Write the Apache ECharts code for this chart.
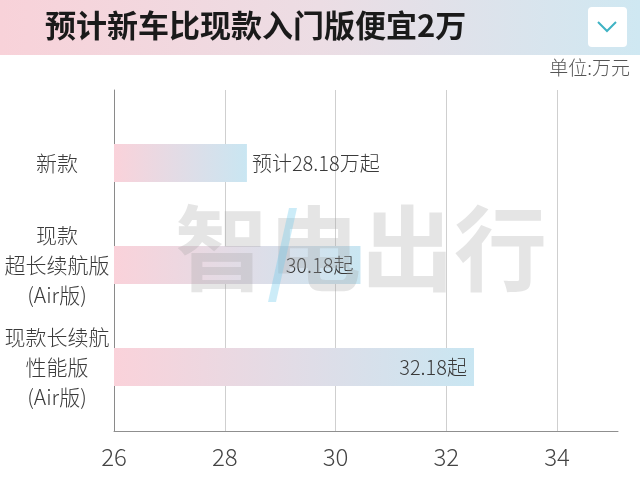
<!DOCTYPE html>
<html>
<head>
<meta charset="utf-8">
<script src="https://cdn.jsdelivr.net/npm/echarts@6/dist/echarts.min.js"></script>
<style>html,body{margin:0;padding:0;background:#fff;}#c{width:640px;height:480px;}</style>
</head>
<body>
<div id="c"></div>
<script>
const titleText = '预计新车比现款入门版便宜2万';
const unitText = '单位:万元';
const categories = ['新款', '现款\n超长续航版\n(Air版)', '现款长续航\n性能版\n(Air版)'];
const barValues = [28.4, 30.45, 32.5];
const barLabels = ['预计28.18万起', '30.18起', '32.18起'];
const labelPositions = ['right', 'insideRight', 'insideRight'];
const axisMin = 26, axisMax = 35.1, axisStep = 2;
const watermark = '智电出行';

const font = '"Noto Sans CJK SC", "Noto Sans", sans-serif';
const chart = echarts.init(document.getElementById('c'), null, {renderer: 'canvas'});

const barGradient = new echarts.graphic.LinearGradient(0, 0, 1, 0, [
  {offset: 0, color: '#fad2da'},
  {offset: 1, color: '#c9e6f2'}
]);

chart.setOption({
  backgroundColor: '#ffffff',
  animation: false,
  textStyle: {fontFamily: font},
  graphic: [
    {type: 'rect', left: 0, top: 0, z: 0, shape: {width: 640, height: 55},
     style: {fill: new echarts.graphic.LinearGradient(0, 0, 1, 0, [
       {offset: 0, color: '#f8d2d9'}, {offset: 0.5, color: '#ecdde4'}, {offset: 1, color: '#cfe8f2'}])}},
    {type: 'text', left: 45, top: 10, z: 1,
     style: {text: titleText, font: 'bold 31px ' + font, fill: '#1a1a1a'}},
    {type: 'rect', left: 588, top: 7, z: 1, shape: {width: 39, height: 40, r: 4}, style: {fill: '#ffffff'}},
    {type: 'polyline', z: 2, shape: {points: [[598, 22], [607, 31], [616, 22]]},
     style: {stroke: '#3fb3c4', lineWidth: 2, fill: null}},
    {type: 'text', right: 10, top: 58, z: 1,
     style: {text: unitText, font: '300 19px ' + font, fill: '#555'}},
    {type: 'text', left: 175, top: 202, z: 20,
     style: {text: watermark, font: 'bold 93px ' + font, fill: 'rgba(160,160,160,0.28)'}},
    {type: 'polygon', z: 21, shape: {points: [[268, 302], [276, 302], [297, 208], [289, 208]]},
     style: {fill: 'rgba(110,200,235,0.35)'}}
  ],
  grid: [
    {left: 114, right: 22, top: 90, bottom: 49},
    {left: 114, right: 22, top: 112, height: 306}
  ],
  xAxis: [
    {type: 'value', gridIndex: 0, min: axisMin, max: axisMax, interval: axisStep,
     axisLine: {show: true, lineStyle: {color: '#8f8f8f', width: 1}},
     axisTick: {show: false},
     axisLabel: {showMaxLabel: false, fontSize: 24, fontWeight: 300, color: '#444', margin: 14, fontFamily: font},
     splitLine: {show: true, showMaxLine: false, lineStyle: {color: '#cfcfcf', width: 1}}},
    {type: 'value', gridIndex: 1, min: axisMin, max: axisMax, interval: axisStep,
     axisLine: {show: false}, axisTick: {show: false}, axisLabel: {show: false}, splitLine: {show: false}}
  ],
  yAxis: [
    {type: 'category', gridIndex: 0, data: [''],
     axisLine: {show: true, lineStyle: {color: '#8a8a8a', width: 1}},
     axisTick: {show: false}, axisLabel: {show: false}, splitLine: {show: false}},
    {type: 'category', gridIndex: 1, data: categories, inverse: true,
     axisLine: {show: false}, axisTick: {show: false}, splitLine: {show: false},
     axisLabel: {align: 'center', margin: 57, fontSize: 21, fontWeight: 300, lineHeight: 30, color: '#3a3a3a', fontFamily: font}}
  ],
  series: [{
    type: 'bar', xAxisIndex: 1, yAxisIndex: 1, barWidth: 38, z: 5,
    data: barValues.map((v, i) => ({
      value: v,
      label: {show: true, position: labelPositions[i], distance: labelPositions[i] === 'right' ? 5 : 7,
              formatter: barLabels[i], fontSize: 20, fontWeight: 300, color: '#3a3a3a', fontFamily: font}
    })),
    itemStyle: {color: barGradient}
  }]
});
</script>
</body>
</html>
